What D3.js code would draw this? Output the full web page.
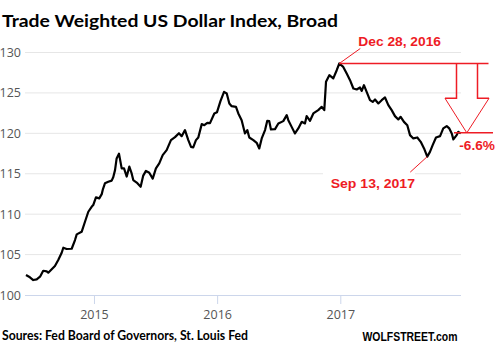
<!DOCTYPE html>
<html><head><meta charset="utf-8">
<script src="https://cdn.jsdelivr.net/npm/d3@7"></script>
<style>body{margin:0;background:#fff}svg{display:block}</style>
</head><body>
<svg id="c" width="497" height="355"></svg>
<script>
// decimal-year dates (weekly-ish) and index values
const dates = [
 2014.448,2014.480,2014.507,2014.535,2014.562,2014.588,2014.616,2014.629,2014.657,2014.683,
 2014.710,2014.738,2014.751,2014.778,2014.819,2014.846,2014.860,2014.900,2014.927,2014.954,
 2014.981,2014.994,2015.016,2015.043,2015.063,2015.073,2015.089,2015.116,2015.144,2015.157,
 2015.171,2015.184,2015.203,2015.225,2015.244,2015.266,2015.287,2015.306,2015.319,2015.347,
 2015.379,2015.400,2015.422,2015.449,2015.477,2015.503,2015.530,2015.558,2015.590,2015.625,
 2015.658,2015.690,2015.712,2015.739,2015.766,2015.788,2015.806,2015.828,2015.847,2015.875,
 2015.896,2015.920,2015.942,2015.977,2015.999,2016.027,2016.056,2016.078,2016.099,2016.118,
 2016.153,2016.172,2016.199,2016.226,2016.245,2016.261,2016.294,2016.321,2016.342,2016.362,
 2016.389,2016.407,2016.423,2016.437,2016.470,2016.497,2016.537,2016.565,2016.578,2016.605,
 2016.632,2016.659,2016.687,2016.713,2016.727,2016.754,2016.781,2016.821,2016.849,2016.870,
 2016.884,2016.911,2016.943,2016.971,2016.992,2017.024,2017.052,2017.079,2017.106,2017.133,
 2017.160,2017.174,2017.192,2017.214,2017.241,2017.263,2017.282,2017.309,2017.336,2017.363,
 2017.390,2017.417,2017.444,2017.471,2017.490,2017.517,2017.544,2017.566,2017.593,2017.625,
 2017.653,2017.680,2017.706,2017.728,2017.750,2017.777,2017.810,2017.836,2017.864,2017.885,
 2017.905,2017.918,2017.945,2017.958,2017.978
];
const values = [
 102.47,102.19,101.85,101.94,102.26,103.00,102.93,102.76,103.18,103.58,
 104.33,105.23,105.85,105.69,105.72,106.80,107.50,107.82,109.06,110.30,
 110.91,111.12,112.08,111.95,112.48,113.10,113.81,114.00,114.15,114.59,
 115.45,116.90,117.49,115.66,115.66,114.65,115.88,115.04,114.22,113.91,
 113.39,114.77,115.36,115.12,114.40,115.66,116.28,117.31,117.92,119.16,
 119.53,120.02,119.65,120.40,119.16,118.33,118.26,119.16,119.49,121.14,
 121.01,121.30,121.26,122.46,122.62,123.98,125.13,124.93,123.70,123.36,
 123.28,122.46,121.63,119.99,120.40,119.49,119.16,118.83,118.13,119.37,
 120.40,121.55,121.51,120.48,120.52,121.22,121.51,122.25,121.63,120.80,
 119.99,120.61,121.42,121.22,122.13,121.55,122.46,122.87,123.28,122.87,
 126.37,127.19,126.79,127.81,128.64,128.22,127.40,126.58,125.55,125.43,
 125.67,125.25,125.96,125.13,124.10,123.89,124.19,123.70,124.10,124.44,
 123.49,122.87,122.13,121.72,122.04,121.42,121.01,119.78,119.37,119.49,
 118.95,118.13,117.12,117.71,118.54,119.49,119.65,120.61,120.89,120.61,
 119.99,119.25,119.78,120.19,119.99
];
const yTicks = [100,105,110,115,120,125,130];
const xTicks = [2015,2016,2017];
const peak = {t:2016.992, v:128.64, label:"Dec 28, 2016"};
const low  = {t:2017.706, v:117.12, label:"Sep 13, 2017"};
const endLevel = 120.06;
const changeLabel = "-6.6%";

const svg = d3.select("#c");
const x = d3.scaleLinear().domain([2014.44, 2017.98]).range([25, 461]);
const y = d3.scaleLinear().domain([100, 130]).range([295, 52.5]);

// grid
svg.append("g").selectAll("line").data(yTicks.filter(d=>d>100)).join("line")
  .attr("x1",25).attr("x2",461).attr("y1",d=>y(d)).attr("y2",d=>y(d))
  .attr("stroke","#e6e6e6").attr("stroke-width",1);

// y labels
svg.append("g").selectAll("text").data(yTicks).join("text")
  .attr("x",21).attr("y",d=>y(d)).attr("dy","0.36em").attr("text-anchor","end")
  .attr("font-family","Open Sans").attr("font-size",12.5).attr("fill","#555")
  .text(d=>d);

// x axis
const xa = svg.append("g").attr("transform",`translate(0,${y(100)})`)
  .call(d3.axisBottom(x).tickValues(xTicks).tickFormat(d3.format("d")).tickSize(9).tickPadding(6));
xa.select(".domain").attr("stroke","#ccd6eb").attr("d",`M25,0.5H461`);
xa.selectAll(".tick line").attr("stroke","#ccd6eb");
xa.selectAll(".tick text").attr("font-family","Open Sans").attr("font-size",12.5).attr("fill","#555");

// line
const line = d3.line().x((d,i)=>x(dates[i])).y(d=>y(d));
svg.append("path").attr("d",line(values)).attr("fill","none")
  .attr("stroke","#000").attr("stroke-width",2.2).attr("stroke-linejoin","round");

// title
svg.append("text").attr("x",2).attr("y",27).attr("font-family","Lato").attr("font-weight","bold")
  .attr("font-size",17.5).attr("fill","#000").attr("textLength",336).attr("lengthAdjust","spacingAndGlyphs")
  .text("Trade Weighted US Dollar Index, Broad");

// footer
svg.append("text").attr("x",2).attr("y",340).attr("font-family","Lato").attr("font-weight","bold")
  .attr("font-size",13).attr("fill","#000").attr("textLength",246).attr("lengthAdjust","spacingAndGlyphs")
  .text("Soures: Fed Board of Governors, St. Louis Fed");
svg.append("text").attr("x",362.5).attr("y",340.5).attr("font-family","Liberation Sans").attr("font-weight","bold")
  .attr("font-size",12).attr("fill","#000").attr("textLength",95).attr("lengthAdjust","spacingAndGlyphs")
  .text("WOLFSTREET.com");

// annotations
const red = "#ee1c25";
const px = x(peak.t), py = y(peak.v), lx = x(low.t), ly = y(low.v), ey = y(endLevel);
const ann = svg.append("g");
// white box behind low label
ann.append("rect").attr("x",323).attr("y",173).attr("width",92).attr("height",22).attr("fill","#fff");
ann.append("line").attr("x1",px).attr("y1",py).attr("x2",px+21).attr("y2",py-15)
  .attr("stroke",red).attr("stroke-width",1);
ann.append("line").attr("x1",lx).attr("y1",ly).attr("x2",lx-17).attr("y2",ly+15.5)
  .attr("stroke",red).attr("stroke-width",1);
ann.append("line").attr("x1",px).attr("y1",py).attr("x2",488.5).attr("y2",py)
  .attr("stroke",red).attr("stroke-width",1.5);
ann.append("line").attr("x1",454).attr("y1",ey).attr("x2",493).attr("y2",ey)
  .attr("stroke",red).attr("stroke-width",1.5);
// arrow
const sx1 = 456.5, sx2 = 477.5, sb = 98.3, hx1 = 445, hx2 = 489, tipX = 466.8;
ann.append("path").attr("d",`M${sx1},${py}V${sb}H${hx1}`).attr("fill","none").attr("stroke",red).attr("stroke-width",1.5);
ann.append("path").attr("d",`M${sx2},${py}V${sb}H${hx2}`).attr("fill","none").attr("stroke",red).attr("stroke-width",1.5);
ann.append("path").attr("d",`M${hx1},${sb}L${tipX},${ey}L${hx2},${sb}`).attr("fill","none").attr("stroke",red).attr("stroke-width",1);

const lab = (t,xx,yy,w)=>ann.append("text").attr("x",xx).attr("y",yy).attr("font-family","Liberation Sans")
  .attr("font-weight","bold").attr("font-size",13).attr("fill",red)
  .attr("textLength",w).attr("lengthAdjust","spacingAndGlyphs").text(t);
lab(peak.label,358.3,45.7,82.7);
lab(low.label,330.7,188.3,84.3);
lab(changeLabel,459.3,150.2,35.7);
</script>
</body></html>
